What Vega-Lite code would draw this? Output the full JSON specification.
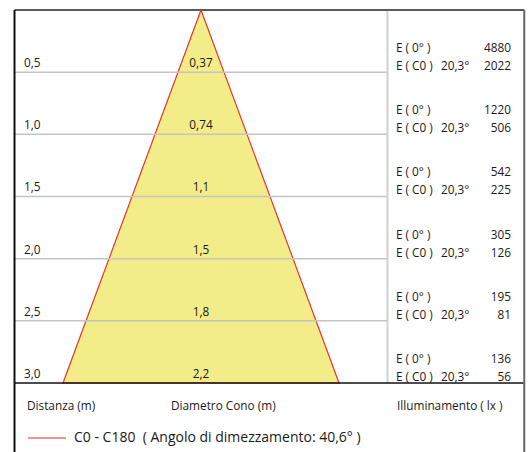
{
  "$schema": "https://vega.github.io/schema/vega-lite/v6.json",
  "width": 528,
  "height": 452,
  "autosize": {"type": "none"},
  "padding": 0,
  "background": "white",
  "config": {
    "view": {"stroke": null},
    "font": "Open Sans",
    "locale": {"number": {"decimal": ",", "thousands": ".", "grouping": [3], "currency": ["", " €"]}},
    "text": {"font": "Open Sans", "fontSize": 11.8, "color": "#1a1a1a"}
  },
  "datasets": {
    "righe": [
      {"distanza": 0.5, "diametro": 0.37, "e0": 4880, "ec0": 2022, "angolo": 20.3},
      {"distanza": 1.0, "diametro": 0.74, "e0": 1220, "ec0": 506, "angolo": 20.3},
      {"distanza": 1.5, "diametro": 1.1, "e0": 542, "ec0": 225, "angolo": 20.3},
      {"distanza": 2.0, "diametro": 1.5, "e0": 305, "ec0": 126, "angolo": 20.3},
      {"distanza": 2.5, "diametro": 1.8, "e0": 195, "ec0": 81, "angolo": 20.3},
      {"distanza": 3.0, "diametro": 2.2, "e0": 136, "ec0": 56, "angolo": 20.3}
    ],
    "cono": [
      {"distanza": 0, "diametro": 0, "curva": "C0 - C180 \u00a0( Angolo di dimezzamento: 40,6° )"},
      {"distanza": 3.0, "diametro": 2.22, "curva": "C0 - C180 \u00a0( Angolo di dimezzamento: 40,6° )"}
    ],
    "uno": [{}]
  },
  "layer": [
    {
      "data": {"name": "cono"},
      "transform": [
        {"calculate": "-datum.diametro / 2", "as": "sinistra"},
        {"calculate": "datum.diametro / 2", "as": "destra"}
      ],
      "mark": {"type": "area", "orient": "horizontal", "fill": "#f2ec89", "fillOpacity": 1, "strokeWidth": 1.2},
      "encoding": {
        "y": {"field": "distanza", "type": "quantitative", "scale": {"domain": [-0.0804, 3.555], "reverse": true, "nice": false, "zero": false}, "axis": null},
        "x": {"field": "sinistra", "type": "quantitative", "scale": {"domain": [-1.6167, 2.6301], "nice": false, "zero": false}, "axis": null},
        "x2": {"field": "destra"},
        "stroke": {
          "field": "curva", "type": "nominal",
          "scale": {"range": ["#e8352f"]},
          "legend": {
            "title": null, "orient": "none", "legendX": 27, "legendY": 418, "padding": 0,
            "symbolType": "stroke", "symbolSize": 1444, "symbolStrokeWidth": 1.5, "symbolOpacity": 0.7,
            "labelFont": "Open Sans", "labelFontSize": 14, "labelColor": "#1a1a1a", "labelOffset": 7, "labelLimit": 500
          }
        }
      }
    },
    {
      "data": {"name": "righe"},
      "transform": [{"filter": "datum.distanza < 3"}],
      "mark": {"type": "rule", "color": "#c4c4c4", "strokeWidth": 1.5},
      "encoding": {
        "y": {"field": "distanza", "type": "quantitative"},
        "x": {"datum": -1.5, "type": "quantitative"},
        "x2": {"datum": 1.5}
      }
    },
    {
      "data": {"name": "uno"},
      "mark": {"type": "rule", "color": "#d0d0d0", "strokeWidth": 2},
      "encoding": {
        "x": {"datum": 1.5, "type": "quantitative"},
        "y": {"datum": 0, "type": "quantitative"},
        "y2": {"datum": 3.0}
      }
    },
    {
      "data": {"name": "uno"},
      "mark": {"type": "rule", "color": "#111111", "strokeWidth": 1.5},
      "encoding": {
        "y": {"datum": 3.0, "type": "quantitative"},
        "x": {"datum": -1.5, "type": "quantitative"},
        "x2": {"datum": 2.6}
      }
    },
    {
      "data": {"name": "uno"},
      "mark": {"type": "rule", "color": "#5a5a5a", "strokeWidth": 2},
      "encoding": {
        "y": {"datum": 0, "type": "quantitative"},
        "x": {"datum": -1.5, "type": "quantitative"},
        "x2": {"datum": 2.6}
      }
    },
    {
      "data": {"name": "uno"},
      "mark": {"type": "rule", "color": "#111111", "strokeWidth": 2},
      "encoding": {
        "x": {"datum": -1.5, "type": "quantitative"},
        "y": {"datum": 0, "type": "quantitative"},
        "y2": {"datum": 3.555}
      }
    },
    {
      "data": {"name": "uno"},
      "mark": {"type": "rule", "color": "#666666", "strokeWidth": 2},
      "encoding": {
        "x": {"datum": 2.6, "type": "quantitative"},
        "y": {"datum": 0, "type": "quantitative"},
        "y2": {"datum": 3.555}
      }
    },
    {
      "data": {"name": "righe"},
      "mark": {"type": "text", "align": "left", "baseline": "middle", "dy": -9},
      "encoding": {
        "y": {"field": "distanza", "type": "quantitative"},
        "x": {"datum": -1.4236, "type": "quantitative"},
        "text": {"field": "distanza", "type": "quantitative", "format": ".1f"}
      }
    },
    {
      "data": {"name": "righe"},
      "mark": {"type": "text", "align": "center", "baseline": "middle", "dy": -9},
      "encoding": {
        "y": {"field": "distanza", "type": "quantitative"},
        "x": {"datum": 0, "type": "quantitative"},
        "text": {"field": "diametro", "type": "quantitative", "format": ".2~f"}
      }
    },
    {
      "data": {"name": "righe"},
      "mark": {"type": "text", "align": "left", "baseline": "middle", "dy": -24, "text": "E ( 0° )"},
      "encoding": {
        "y": {"field": "distanza", "type": "quantitative"},
        "x": {"datum": 1.568, "type": "quantitative"}
      }
    },
    {
      "data": {"name": "righe"},
      "mark": {"type": "text", "align": "left", "baseline": "middle", "dy": -6, "text": "E ( C0 )"},
      "encoding": {
        "y": {"field": "distanza", "type": "quantitative"},
        "x": {"datum": 1.568, "type": "quantitative"}
      }
    },
    {
      "data": {"name": "righe"},
      "transform": [{"calculate": "replace(format(datum.angolo, '.1f'), '.', ',') + '°'", "as": "angolo_txt"}],
      "mark": {"type": "text", "align": "left", "baseline": "middle", "dy": -6},
      "encoding": {
        "y": {"field": "distanza", "type": "quantitative"},
        "x": {"datum": 1.93, "type": "quantitative"},
        "text": {"field": "angolo_txt", "type": "nominal"}
      }
    },
    {
      "data": {"name": "righe"},
      "mark": {"type": "text", "align": "right", "baseline": "middle", "dy": -24},
      "encoding": {
        "y": {"field": "distanza", "type": "quantitative"},
        "x": {"datum": 2.493, "type": "quantitative"},
        "text": {"field": "e0", "type": "quantitative", "format": "d"}
      }
    },
    {
      "data": {"name": "righe"},
      "mark": {"type": "text", "align": "right", "baseline": "middle", "dy": -6},
      "encoding": {
        "y": {"field": "distanza", "type": "quantitative"},
        "x": {"datum": 2.493, "type": "quantitative"},
        "text": {"field": "ec0", "type": "quantitative", "format": "d"}
      }
    },
    {
      "data": {"name": "uno"},
      "mark": {"type": "text", "align": "left", "baseline": "middle", "text": "Distanza (m)"},
      "encoding": {
        "y": {"datum": 3.185, "type": "quantitative"},
        "x": {"datum": -1.3995, "type": "quantitative"}
      }
    },
    {
      "data": {"name": "uno"},
      "mark": {"type": "text", "align": "left", "baseline": "middle", "text": "Diametro Cono (m)"},
      "encoding": {
        "y": {"datum": 3.185, "type": "quantitative"},
        "x": {"datum": -0.2413, "type": "quantitative"}
      }
    },
    {
      "data": {"name": "uno"},
      "mark": {"type": "text", "align": "left", "baseline": "middle", "text": "Illuminamento ( lx )"},
      "encoding": {
        "y": {"datum": 3.185, "type": "quantitative"},
        "x": {"datum": 1.5764, "type": "quantitative"}
      }
    }
  ]
}
